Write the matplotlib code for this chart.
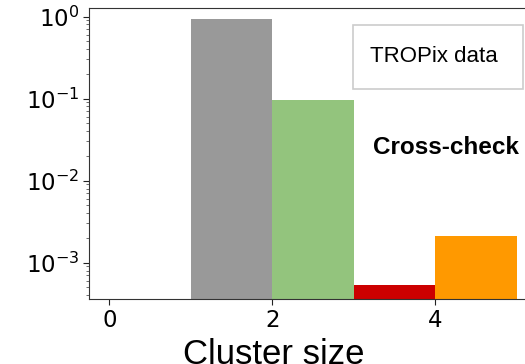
import matplotlib
matplotlib.use("Agg")
import matplotlib.pyplot as plt
from matplotlib.patches import Rectangle

# cluster size bins (left edges) and fractions
cluster_size = [1, 2, 3, 4]
fraction = [0.94, 0.097, 0.00053, 0.0021]
colors = ["#999999", "#93c47d", "#cc0000", "#ff9900"]
xticks = [0, 2, 4]

W, H = 525, 364
fig = plt.figure(figsize=(W / 100, H / 100), dpi=100)
ax = fig.add_axes([89 / W, 65 / H, 441 / W, 291 / H])

ax.bar(cluster_size, fraction, width=1.0, align="edge", color=colors, bottom=1e-6)
ax.set_yscale("log")
ax.set_ylim(3.6e-4, 1.27)
ax.set_xlim(-0.25, 5.16)
ax.set_xticks(xticks)
ax.tick_params(axis="both", labelsize=16.5, colors="#222222", labelcolor="black",
               length=4, pad=3)
ax.tick_params(axis="y", which="minor", colors="#555555", length=2.5)
for s in ax.spines.values():
    s.set_color("#333333")

ax.set_xlabel("Cluster size", fontsize=25, family="Liberation Sans")
ax.xaxis.set_label_coords((274 - 89) / 441, -0.135)

# legend-like box
fig.patches.append(Rectangle((353 / W, 1 - 89 / H), 170 / W, 64 / H,
                             transform=fig.transFigure, fill=False,
                             edgecolor="#cccccc", linewidth=1.2))
fig.text(434 / W, 1 - 57 / H, "TROPix data", ha="center", va="center",
         fontsize=16, family="Liberation Sans")
fig.text(446 / W, 1 - 147 / H, "Cross-check", ha="center", va="center",
         fontsize=17.5, fontweight="bold", family="Liberation Sans")

fig.savefig("out.png", dpi=100)
